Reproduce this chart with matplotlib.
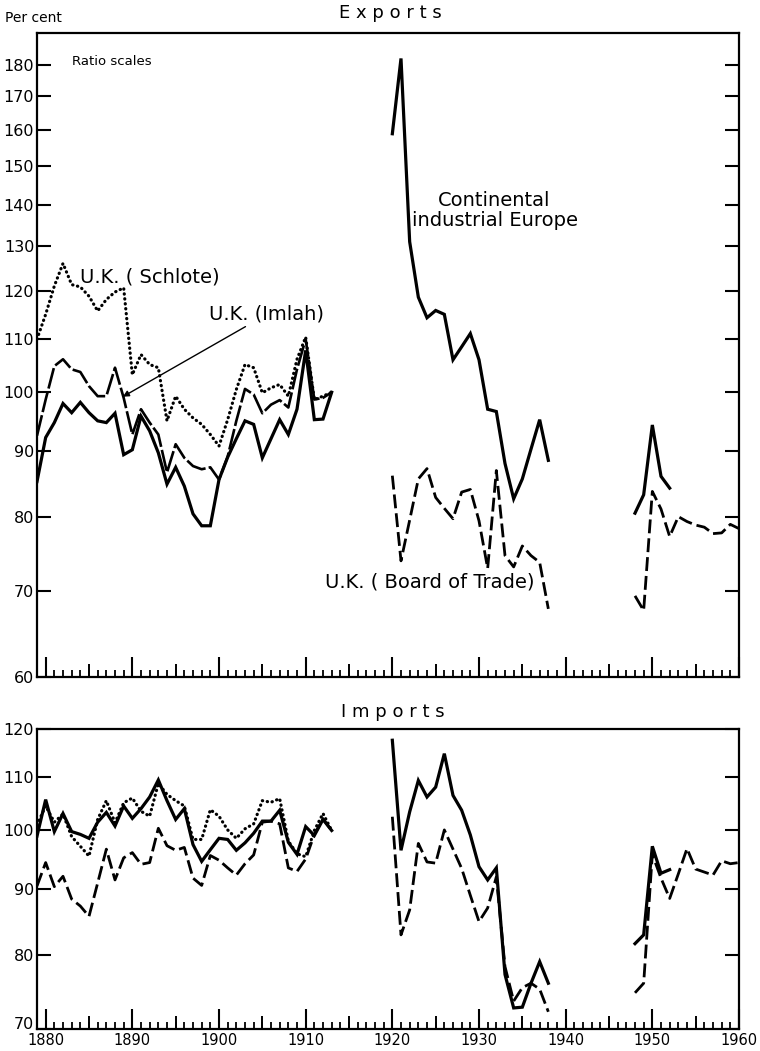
import numpy as np
import matplotlib
matplotlib.use("Agg")
import matplotlib.pyplot as plt
import matplotlib.ticker as ticker

plt.rcParams["font.family"] = ["DejaVu Sans"]

# ── Data (index numbers, 1913 = 100) ───────────────────────────────────────────
YEARS_PRE   = list(range(1879, 1914))
YEARS_INTER = list(range(1920, 1939))
YEARS_POST_CONT = list(range(1948, 1953))
YEARS_POST_UK   = list(range(1948, 1961))

# Exports
exp_schlote = [110, 115, 121, 126, 121.3, 120.8, 118.8, 115.7, 118.1, 119.7,
               120.6, 103.2, 107.0, 105.1, 104.5, 95.0, 99.3, 97.0, 95.5, 94.4,
               92.7, 90.8, 95.2, 100.5, 105.1, 104.5, 99.9, 100.8, 101.4, 99.3,
               106.1, 110.4, 98.7, 99.3, 100]
exp_imlah = [92.5, 98.7, 104.8, 106.1, 104.2, 103.7, 101.1, 99.3, 99.3, 104.5,
             99.0, 92.7, 97.0, 94.7, 92.7, 86.6, 91.1, 88.9, 87.6, 87.1,
             87.4, 85.5, 89.1, 95.0, 100.6, 99.6, 96.3, 97.8, 98.6, 97.3,
             104.2, 110.0, 98.7, 99.0, 100]
exp_cont_pre = [85.2, 92.2, 94.7, 98.0, 96.4, 98.2, 96.4, 95.0, 94.7, 96.3,
                89.4, 90.2, 95.8, 93.3, 89.7, 84.8, 87.4, 84.5, 80.4, 78.7,
                78.7, 85.5, 89.0, 92.0, 95.0, 94.4, 88.9, 92.0, 95.2, 92.7,
                97.0, 107.8, 95.2, 95.3, 100]
exp_cont_inter = [159, 182, 131, 118.6, 114.3, 115.8, 115, 106, 108.5, 111.1,
                  106, 97, 96.6, 88, 82.6, 85.6, 90.3, 95.2, 88.5]
exp_bot_inter = [86.1, 73.9, 79.5, 85.6, 87.2, 82.8, 81.2, 79.7, 83.6, 84.0,
                 79.4, 72.9, 86.9, 74.6, 73.1, 75.9, 74.6, 73.7, 67.8]
exp_cont_post = [80.5, 83.2, 94.3, 86.0, 84.2]
exp_bot_post = [69.4, 67.6, 83.7, 81.1, 77.2, 80.0, 79.3, 78.8, 78.5, 77.6,
                77.7, 78.9, 78.3]

# Imports
imp_cont_pre = [99, 105.7, 99.8, 103.1, 99.8, 99.3, 98.6, 101.5, 103.3, 100.8,
                104.5, 102.2, 104.0, 106.2, 109.5, 105.5, 102.0, 104.0, 97.5, 94.6,
                96.6, 98.6, 98.4, 96.5, 97.8, 99.5, 101.7, 101.7, 103.7, 97.9,
                95.8, 100.7, 99.1, 102.0, 100]
imp_schlote = [101, 104.5, 101.5, 103, 98.9, 97.2, 95.5, 102, 105.5, 101.4,
               105.1, 106, 103.5, 102.6, 108.8, 106.7, 105.5, 104.5, 98.4, 98.4,
               103.8, 102.6, 100.1, 98.6, 100.3, 101.2, 105.5, 105.2, 105.9, 98.1,
               95.9, 95.4, 100, 103.1, 100]
imp_bot_pre = [90.5, 94.4, 90.4, 92.1, 88.4, 87.3, 85.7, 91.0, 96.7, 91.5,
               95.2, 96.1, 94.1, 94.4, 100.4, 97.3, 96.5, 97.0, 91.8, 90.6,
               95.6, 94.8, 93.5, 92.3, 94.2, 95.7, 101.5, 101.7, 101.2, 93.5,
               92.9, 95.0, 99.3, 102.1, 100]
imp_cont_inter = [117.6, 96.5, 103.4, 109.4, 106.2, 108.1, 114.8, 106.5, 103.7, 99.2,
                  93.7, 91.5, 93.5, 77.2, 72.7, 72.8, 76.0, 79.0, 76.0]
imp_bot_inter = [102.5, 82.9, 86.7, 97.7, 94.5, 94.3, 100.1, 96.7, 93.4, 89.0,
                 84.9, 87.0, 92.0, 78.3, 73.6, 75.4, 76.0, 75.2, 72.2]
imp_cont_post = [81.6, 82.9, 97.2, 92.6, 93.2]
imp_bot_post = [74.7, 76.0, 95.8, 91.8, 88.5, 92.5, 96.8, 93.3, 92.8, 92.3,
                94.7, 94.2, 94.4]

EXP_YTICKS = [60, 70, 80, 90, 100, 110, 120, 130, 140, 150, 160, 170, 180]
IMP_YTICKS = [70, 80, 90, 100, 110, 120]
XTICKS = list(range(1880, 1961, 10))
XTICKS_MID = list(range(1885, 1960, 10))

# ── Line styles ────────────────────────────────────────────────────────────────
SOLID  = dict(color="black", lw=2.3, solid_joinstyle="miter")
DOTTED = dict(color="black", lw=2.3, linestyle=(0, (0.1, 1.45)), dash_capstyle="round")
DASHED = dict(color="black", lw=2.0, linestyle=(0, (5, 1.8)))
LONGDASH = dict(color="black", lw=1.9, linestyle=(0, (8, 1.2)))
LABEL_FS = 14

W, H = 760, 1051
fig = plt.figure(figsize=(W / 100, H / 100), dpi=100)


def frac(left, top, right, bottom):
    return [left / W, 1 - bottom / H, (right - left) / W, (bottom - top) / H]


def style_axes(ax, yticks, ylim, xlabels):
    ax.set_yscale("log")
    ax.set_xlim(1879, 1960)
    ax.set_ylim(*ylim)
    ax.yaxis.set_major_locator(ticker.FixedLocator(yticks))
    ax.yaxis.set_major_formatter(ticker.FixedFormatter([str(t) for t in yticks]))
    ax.yaxis.set_minor_locator(ticker.NullLocator())
    ax.tick_params(axis="y", which="major", direction="in", length=10, width=1.5,
                   left=True, right=True, labelleft=True, labelright=False,
                   labelsize=11.5, pad=2)
    ax.xaxis.set_major_locator(ticker.FixedLocator(XTICKS))
    ax.xaxis.set_minor_locator(ticker.MultipleLocator(1))
    ax.tick_params(axis="x", which="major", direction="in", length=14.5, width=1.5,
                   labelbottom=xlabels, labelsize=10.5, pad=3)
    ax.tick_params(axis="x", which="minor", direction="in", length=5, width=1.3)
    for s in ax.spines.values():
        s.set_linewidth(1.6)
    sec = ax.secondary_xaxis("bottom")
    sec.set_xticks(XTICKS_MID)
    sec.tick_params(direction="in", length=9.5, width=1.4, labelbottom=False)
    sec.spines["bottom"].set_visible(False)


# ── Exports ────────────────────────────────────────────────────────────────────
ax1 = fig.add_axes(frac(37, 33, 739, 677))
ax1.plot(YEARS_PRE, exp_schlote, **DOTTED)
ax1.plot(YEARS_PRE, exp_imlah, **LONGDASH)
ax1.plot(YEARS_PRE, exp_cont_pre, **SOLID)
ax1.plot(YEARS_INTER, exp_cont_inter, **SOLID)
ax1.plot(YEARS_INTER, exp_bot_inter, **DASHED)
ax1.plot(YEARS_POST_CONT, exp_cont_post, **SOLID)
ax1.plot(YEARS_POST_UK, exp_bot_post, **DASHED)
style_axes(ax1, EXP_YTICKS, (60, 190.5), False)

ax1.text(1883.0, 181, "Ratio scales", fontsize=9.5, va="center", ha="left")
ax1.text(1884.0, 123, "U.K. ( Schlote)", fontsize=LABEL_FS, va="center", ha="left")
ax1.annotate("U.K. (Imlah)", xy=(1888.9, 99.2), xytext=(1898.9, 115),
             fontsize=LABEL_FS, va="center", ha="left",
             arrowprops=dict(arrowstyle="-|>", color="black", lw=1.0,
                             shrinkA=0, shrinkB=0, mutation_scale=9))
ax1.text(1931.8, 138.5, "Continental\nindustrial Europe", fontsize=LABEL_FS,
         va="center", ha="center", linespacing=1.05)
ax1.text(1924.3, 71.2, "U.K. ( Board of Trade)", fontsize=LABEL_FS, va="center", ha="center")

# ── Imports ────────────────────────────────────────────────────────────────────
ax2 = fig.add_axes(frac(37, 729, 739, 1029))
ax2.plot(YEARS_PRE, imp_schlote, **DOTTED)
ax2.plot(YEARS_PRE, imp_bot_pre, **DASHED)
ax2.plot(YEARS_PRE, imp_cont_pre, **SOLID)
ax2.plot(YEARS_INTER, imp_cont_inter, **SOLID)
ax2.plot(YEARS_INTER, imp_bot_inter, **DASHED)
ax2.plot(YEARS_POST_CONT, imp_cont_post, **SOLID)
ax2.plot(YEARS_POST_UK, imp_bot_post, **DASHED)
style_axes(ax2, IMP_YTICKS, (70, 120), True)
# lowest label sits on the baseline so it clears the year labels
ax2.get_yticklabels()[0].set_va("baseline")

# ── Headings ───────────────────────────────────────────────────────────────────
fig.text(5 / W, 1 - 18 / H, "Per cent", fontsize=10, va="center", ha="left")
fig.text(390 / W, 1 - 13 / H, "E x p o r t s", fontsize=13, va="center", ha="center")
fig.text(393 / W, 1 - 712 / H, "I m p o r t s", fontsize=13, va="center", ha="center")

fig.savefig("out.png", dpi=100)
print("Saved → out.png")
